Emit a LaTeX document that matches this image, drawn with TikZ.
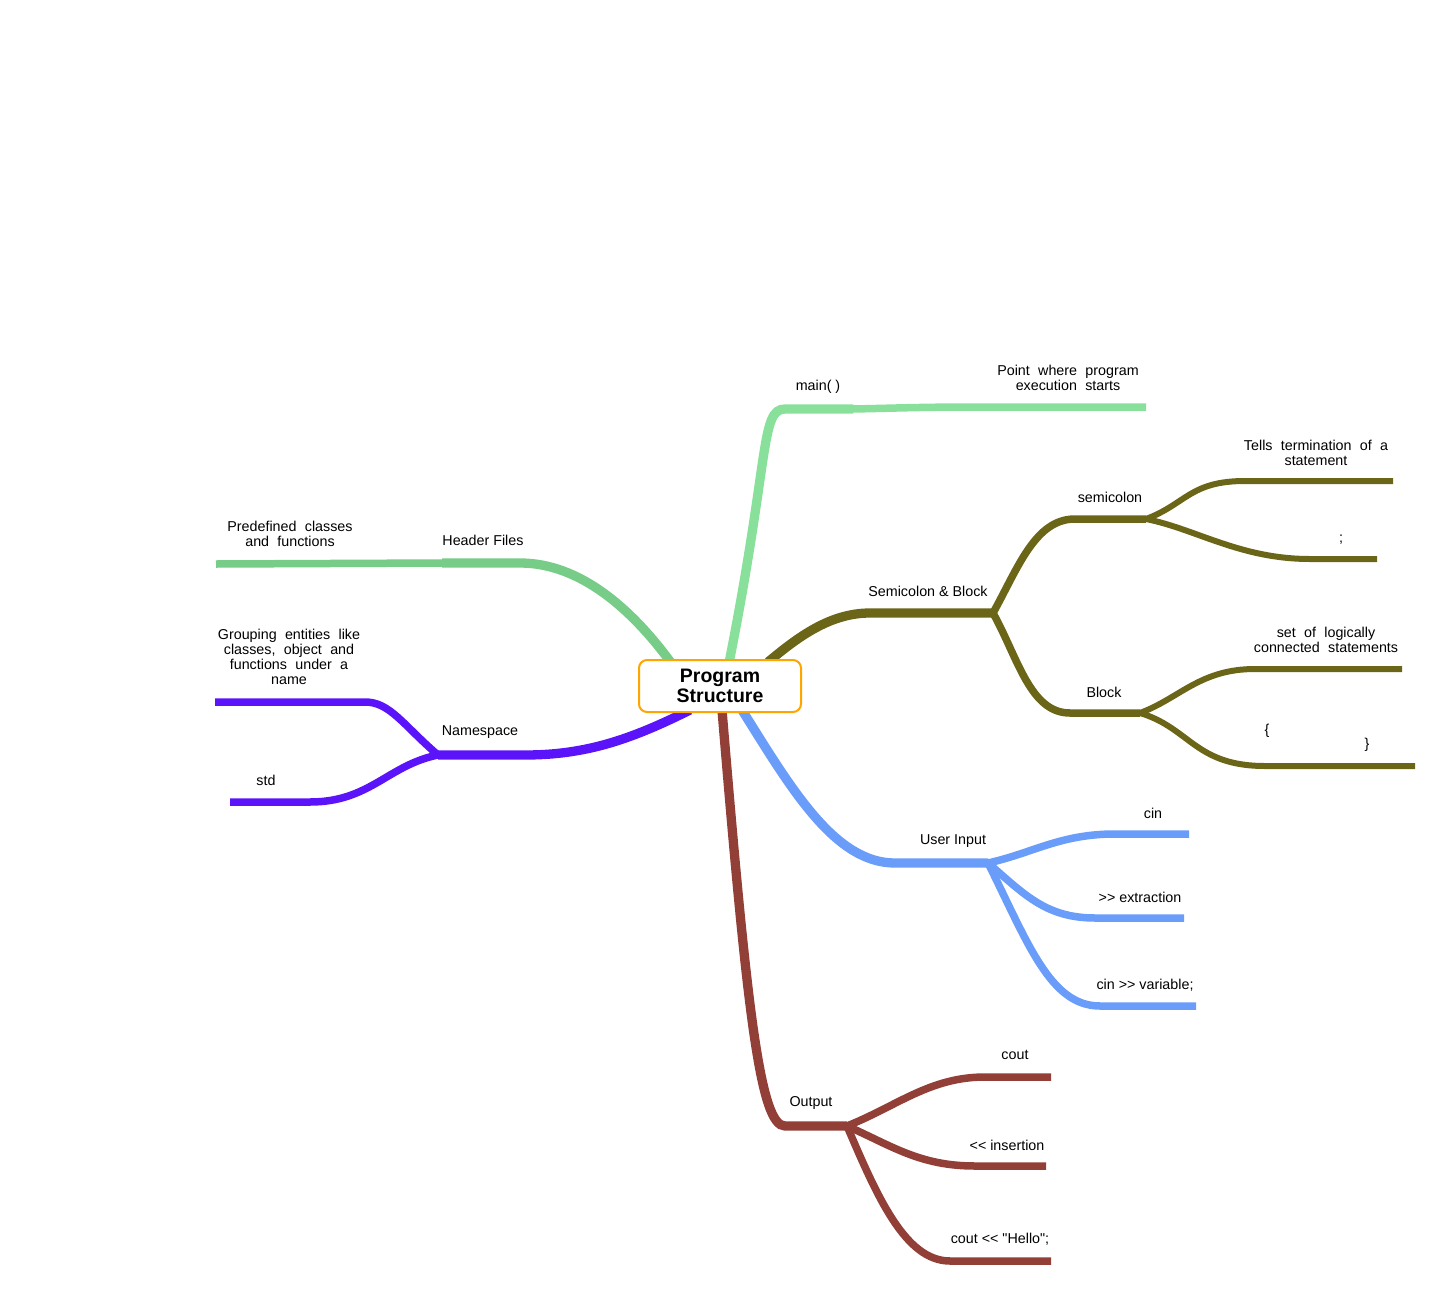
\documentclass[tikz,border=0pt]{standalone}
\usepackage{fontspec}
\setmainfont{Liberation Sans}[Ligatures=TeXOff]
\usetikzlibrary{backgrounds}
\definecolor{cMain}{HTML}{88E09A}
\definecolor{cHead}{HTML}{77CC88}
\definecolor{cOlive}{HTML}{6B6617}
\definecolor{cPurp}{HTML}{5B14F9}
\definecolor{cBlue}{HTML}{6A9DF9}
\definecolor{cBrown}{HTML}{923F38}
\definecolor{cOrange}{HTML}{FFA500}
\newcommand\mywidesp{\spaceskip=0.58em plus 0.1em\relax}
\begin{document}
\begin{tikzpicture}[x=1pt,y=1pt,
  lab/.style={inner sep=0pt, font=\fontsize{14.3}{15}\selectfont},
  wlab/.style={inner sep=0pt, align=center, font=\fontsize{14.3}{15}\selectfont, execute at begin node=\mywidesp},
  br/.style={line width=9.3pt, line cap=butt},
  brtwo/.style={line width=7.5pt, line cap=butt},
  brthree/.style={line width=6pt, line cap=butt},
  rootbox/.style={draw=cOrange, line width=2pt, rounded corners=8pt, fill=white,
    minimum width=162pt, minimum height=52pt, align=center, inner sep=0pt,
    font=\bfseries\fontsize{19.5}{20}\selectfont}]
\useasboundingbox (0,0) rectangle (1440,-1290);

\node[rootbox] (root) at (720,-686) {Program\\Structure};

% coordinates
\coordinate (mainS) at (728,-668);
\coordinate (mainA) at (785,-409);
\coordinate (mainB) at (853,-409);
\coordinate (mainC1) at (980,-407);
\coordinate (mainC) at (1146,-407);

\coordinate (hdS) at (672,-664);
\coordinate (hdA) at (520,-563);
\coordinate (hdB) at (442,-563);
\coordinate (hdC) at (216,-564);

\coordinate (sbS) at (768,-662);
\coordinate (sbA) at (870,-613);
\coordinate (sbB) at (993,-613);
\coordinate (scA) at (1075,-519);
\coordinate (scB) at (1146,-519);
\coordinate (blA) at (1070,-713);
\coordinate (blB) at (1140,-713);
\coordinate (t1A) at (1245,-481);
\coordinate (t1B) at (1393,-481);
\coordinate (t2A) at (1310,-559);
\coordinate (t2B) at (1377,-559);
\coordinate (b1A) at (1255,-669);
\coordinate (b1B) at (1402,-669);
\coordinate (b2A) at (1265,-766);
\coordinate (b2B) at (1415,-766);

\coordinate (nsS) at (690,-710);
\coordinate (nsA) at (525,-755);
\coordinate (nsB) at (438,-755);
\coordinate (g1A) at (365,-702);
\coordinate (g1B) at (215,-702);
\coordinate (g2A) at (310,-802);
\coordinate (g2B) at (230,-802);

\coordinate (uiS) at (742,-710);
\coordinate (uiA) at (895,-863);
\coordinate (uiB) at (988,-863);
\coordinate (c1A) at (1115,-834);
\coordinate (c1B) at (1189,-834);
\coordinate (c2A) at (1095,-918);
\coordinate (c2B) at (1184,-918);
\coordinate (c3A) at (1100,-1006);
\coordinate (c3B) at (1196,-1006);

\coordinate (otS) at (722,-710);
\coordinate (otA) at (785,-1126);
\coordinate (otB) at (847,-1126);
\coordinate (o1A) at (985,-1077);
\coordinate (o1B) at (1051,-1077);
\coordinate (o2A) at (975,-1166);
\coordinate (o2B) at (1046,-1166);
\coordinate (o3A) at (950,-1261);
\coordinate (o3B) at (1051,-1261);

\begin{scope}[on background layer]
% main()
\draw[br, cMain] (mainS) .. controls +(42,210) and +(-25,0) .. (mainA) -- (mainB);
\draw[brtwo, cMain] (mainB) .. controls +(50,1) and +(-60,0) .. (mainC1) -- (mainC);
% Header files
\draw[br, cHead] (hdS) .. controls +(-40,55) and +(60,0) .. (hdA) -- (hdB);
\draw[brtwo, cHead] (hdB) -- (hdC);
% Semicolon & Block
\draw[br, cOlive] (sbS) .. controls +(30,25) and +(-40,0) .. (sbA) -- (sbB);
\draw[brtwo, cOlive] (sbB) .. controls +(25,45) and +(-40,0) .. (scA) -- (scB);
\draw[brtwo, cOlive] (sbB) .. controls +(25,-45) and +(-40,0) .. (blA) -- (blB);
\draw[brthree, cOlive] (scB) .. controls +(40,15) and +(-55,0) .. (t1A) -- (t1B);
\draw[brthree, cOlive] (scB) .. controls +(50,-10) and +(-70,0) .. (t2A) -- (t2B);
\draw[brthree, cOlive] (blB) .. controls +(40,15) and +(-55,0) .. (b1A) -- (b1B);
\draw[brthree, cOlive] (blB) .. controls +(50,-15) and +(-70,0) .. (b2A) -- (b2B);
% Namespace
\draw[br, cPurp] (nsS) .. controls +(-60,-30) and +(60,0) .. (nsA) -- (nsB);
\draw[brtwo, cPurp] (nsB) .. controls +(-35,30) and +(25,0) .. (g1A) -- (g1B);
\draw[brtwo, cPurp] (nsB) .. controls +(-50,-10) and +(60,0) .. (g2A) -- (g2B);
% User Input
\draw[br, cBlue] (uiS) .. controls +(50,-80) and +(-60,0) .. (uiA) -- (uiB);
\draw[brtwo, cBlue] (uiB) .. controls +(45,10) and +(-55,0) .. (c1A) -- (c1B);
\draw[brtwo, cBlue] (uiB) .. controls +(35,-30) and +(-50,0) .. (c2A) -- (c2B);
\draw[brtwo, cBlue] (uiB) .. controls +(40,-80) and +(-50,0) .. (c3A) -- (c3B);
% Output
\draw[br, cBrown] (otS) .. controls +(25,-300) and +(-25,0) .. (otA) -- (otB);
\draw[brtwo, cBrown] (otB) .. controls +(50,20) and +(-55,0) .. (o1A) -- (o1B);
\draw[brtwo, cBrown] (otB) .. controls +(45,-20) and +(-55,0) .. (o2A) -- (o2B);
\draw[brtwo, cBrown] (otB) .. controls +(30,-70) and +(-45,0) .. (o3A) -- (o3B);
\end{scope}

% labels
\node[lab] (lMain) at (818,-387) {main( )};
\node[wlab] (lMainD) at (1068,-378) {Point where program\\execution starts};
\node[lab] (lHead) at (483,-540) {Header Files};
\node[wlab] (lHeadD) at (290,-534) {Predefined classes\\and functions};
\node[lab] (lSB) at (928,-591) {Semicolon \& Block};
\node[lab] (lSemi) at (1110,-497) {semicolon};
\node[wlab] (lSemiD) at (1316,-453) {Tells termination of a\\statement};
\node[lab] (lSemiC) at (1341,-540) {;};
\node[lab] (lBlock) at (1104,-692) {Block};
\node[wlab] (lBlockD) at (1326,-640) {set of logically\\connected statements};
\node[lab] (lOpen) at (1267,-731) {\{};
\node[lab] (lClose) at (1367,-745) {\}};
\node[lab] (lNs) at (480,-732) {Namespace};
\node[wlab] (lNsD) at (289,-657) {Grouping entities like\\classes, object and\\functions under a\\name};
\node[lab] (lStd) at (266,-780) {std};
\node[lab] (lUi) at (953,-841) {User Input};
\node[lab] (lCin) at (1153,-813) {cin};
\node[lab] (lExt) at (1140,-897) {>{}> extraction};
\node[lab] (lVar) at (1145,-985) {cin >{}> variable;};
\node[lab] (lOut) at (811,-1103) {Output};
\node[lab] (lCout) at (1015,-1055) {cout};
\node[lab] (lIns) at (1007,-1145) {<{}< insertion};
\node[lab] (lHello) at (1000,-1239) {cout <{}< "Hello";};
\end{tikzpicture}
\end{document}
